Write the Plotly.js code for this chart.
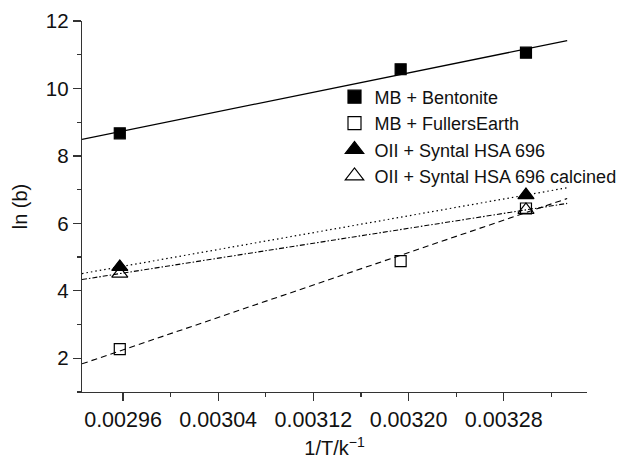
<!DOCTYPE html>
<html>
<head>
<meta charset="utf-8">
<script src="https://cdn.plot.ly/plotly-3.0.1.min.js"></script>
<style>html,body{margin:0;padding:0;background:#fff;}#chart{width:630px;height:460px;}</style>
</head>
<body>
<div id="chart"></div>
<script>
// 1/T values (K^-1) for 65, 40 and 30 °C
var invT = [1 / 338.15, 1 / 313.15, 1 / 303.15];
var invT2 = [1 / 338.15, 1 / 303.15];

var seriesNames = ["MB + Bentonite", "MB + FullersEarth", "OII + Syntal HSA 696", "OII + Syntal HSA 696 calcined"];
var mbBentonite = [8.67, 10.57, 11.06];
var mbFullers = [2.27, 4.88, 6.44];
var oiiSyntal = [4.71, 6.84];
var oiiSyntalCalc = [4.51, 6.40];

var xTicks = [0.00296, 0.00304, 0.00312, 0.00320, 0.00328];
var yTicks = [2, 4, 6, 8, 10, 12];

// axis / fit-line extents
var xRange = [0.0029255, 0.00335];
var yRange = [1, 12];
var fitX = [xRange[0], 1 / 300];

function fit(xs, ys) {
  var n = xs.length, mx = 0, my = 0;
  for (var i = 0; i < n; i++) { mx += xs[i]; my += ys[i]; }
  mx /= n; my /= n;
  var sxy = 0, sxx = 0;
  for (var j = 0; j < n; j++) { sxy += (xs[j] - mx) * (ys[j] - my); sxx += (xs[j] - mx) * (xs[j] - mx); }
  var b = sxy / sxx, a = my - b * mx;
  return fitX.map(function (x) { return a + b * x; });
}

var black = "#000";
var series = [
  {x: invT, y: mbBentonite, name: seriesNames[0], symbol: "square", size: 11, lsize: 13, dash: "solid", lw: 1.3},
  {x: invT, y: mbFullers, name: seriesNames[1], symbol: "square-open", size: 11, lsize: 13, dash: "6px,4px", lw: 1.1},
  {x: invT2, y: oiiSyntal, name: seriesNames[2], symbol: "triangle-up", size: 14, lsize: 16, dash: "1.5px,3px", lw: 1.2},
  {x: invT2, y: oiiSyntalCalc, name: seriesNames[3], symbol: "triangle-up-open", size: 14, lsize: 16, dash: "5px,2px,1.5px,2px", lw: 1.1}
];

var traces = [];
series.forEach(function (s) {
  traces.push({
    x: fitX, y: fit(s.x, s.y), mode: "lines", showlegend: false, hoverinfo: "skip",
    line: {color: black, width: s.lw, dash: s.dash}
  });
});
series.forEach(function (s) {
  traces.push({
    x: s.x, y: s.y, mode: "markers", name: s.name, showlegend: false, cliponaxis: false,
    marker: {symbol: s.symbol, size: s.size, color: black, line: {color: black, width: 1.2}}
  });
});
// legend-only entries (slightly larger symbols, as in the reference key)
series.forEach(function (s) {
  traces.push({
    x: [null], y: [null], mode: "markers", name: s.name, showlegend: true,
    marker: {symbol: s.symbol, size: s.lsize, color: black, line: {color: black, width: 1.2}}
  });
});

var font = "Liberation Sans, Arial, Helvetica, sans-serif";
var layout = {
  width: 630, height: 460,
  margin: {l: 81.7, r: 43.3, t: 20.7, b: 67.7, autoexpand: false},
  paper_bgcolor: "#fff", plot_bgcolor: "#fff",
  font: {family: font, color: "#111", size: 20},
  showlegend: true,
  legend: {
    x: 0.50, xanchor: "left", y: 0.845, yanchor: "top",
    bgcolor: "rgba(0,0,0,0)", borderwidth: 0,
    font: {family: font, size: 18, color: "#111"},
    tracegroupgap: 0
  },
  xaxis: {
    range: xRange, autorange: false, automargin: false,
    showline: true, linecolor: "#333", linewidth: 1.3, mirror: false,
    showgrid: false, zeroline: false,
    tickmode: "array", tickvals: xTicks, tickformat: ".5f",
    ticks: "outside", ticklen: 8, tickwidth: 1.2, tickcolor: "#333",
    minor: {dtick: 0.00004, tick0: 0.00296, ticks: "outside", ticklen: 4, tickwidth: 1.2, tickcolor: "#333", showgrid: false},
    tickfont: {size: 21.5, family: font, color: "#111"},
    title: {text: "1/T/k<sup>\u22121</sup>", font: {size: 20, family: font, color: "#111"}, standoff: 10}
  },
  yaxis: {
    range: yRange, autorange: false, automargin: false,
    showline: true, linecolor: "#333", linewidth: 1.3, mirror: false,
    showgrid: false, zeroline: false,
    tickmode: "array", tickvals: yTicks,
    ticks: "outside", ticklen: 8, tickwidth: 1.2, tickcolor: "#333",
    minor: {dtick: 1, tick0: 0, ticks: "outside", ticklen: 4, tickwidth: 1.2, tickcolor: "#333", showgrid: false},
    tickfont: {size: 20.5, family: font, color: "#111"},
    title: {text: "ln (b)", font: {size: 20, family: font, color: "#111"}, standoff: 12}
  }
};

Plotly.newPlot("chart", traces, layout, {displayModeBar: false, staticPlot: true});
</script>
</body>
</html>
